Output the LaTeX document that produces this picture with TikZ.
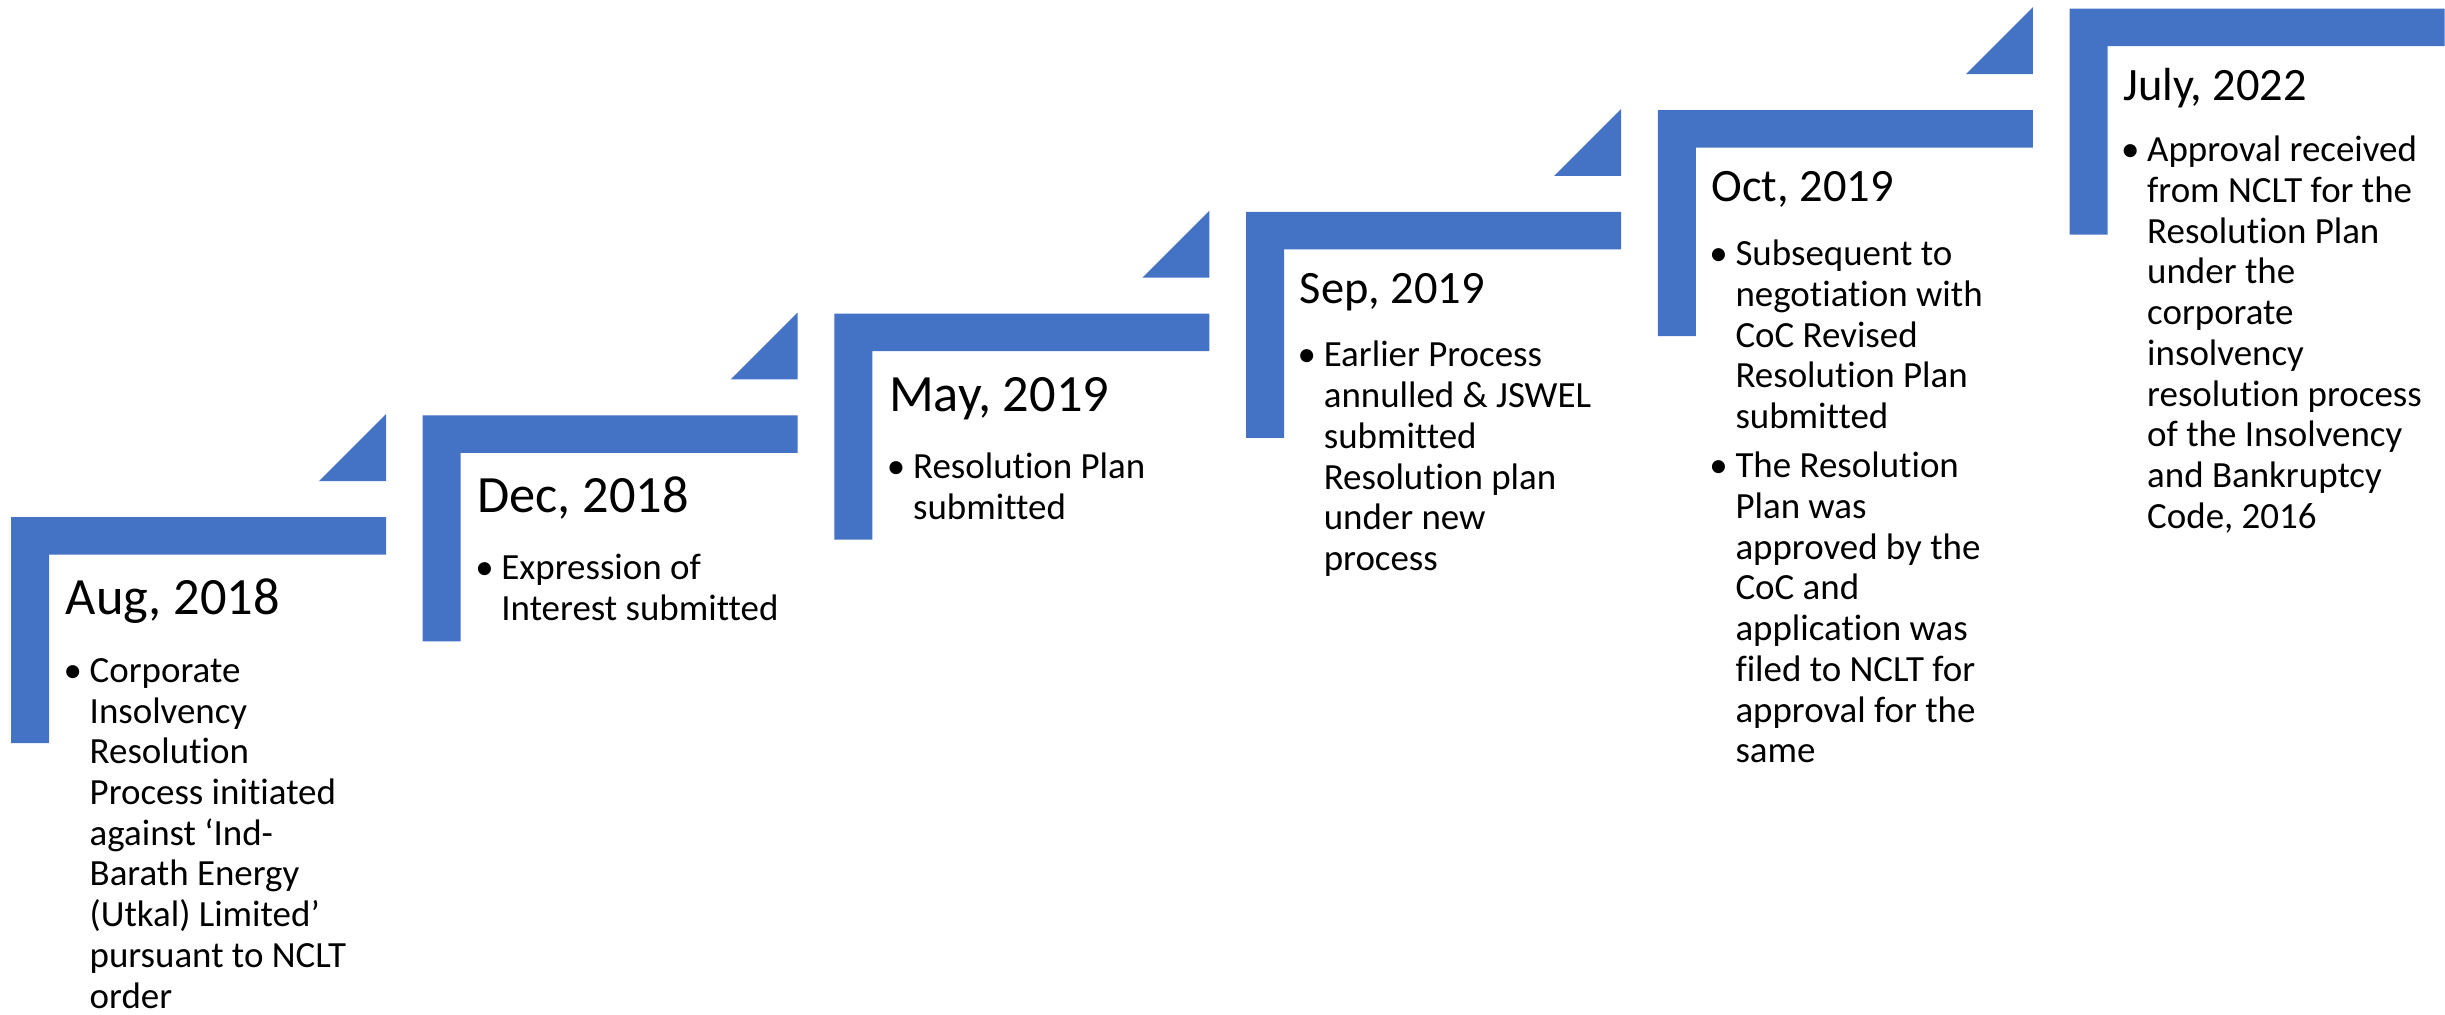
\documentclass[tikz,border=0pt]{standalone}
\usepackage{fontspec}
\setmainfont{Carlito}[Ligatures=NoCommon]
\usetikzlibrary{positioning}
\definecolor{StepBlue}{RGB}{68, 114, 196}

\tikzset{
  stepbar/.style={fill=StepBlue, draw=none},
  datebig/.style={anchor=base west, inner sep=0pt, font=\fontsize{14.9}{18}\selectfont},
  datesmall/.style={anchor=base west, inner sep=0pt, font=\fontsize{13.2}{16}\selectfont},
  % anchor on the baseline of the last line
  bullets/.style={anchor=base west, inner sep=0pt, align=left, font=\fontsize{10.5}{11.58}\selectfont},
}
\newcommand{\bul}{\llap{•\hspace{2.2pt}}}

\begin{document}
\begin{tikzpicture}[x=0.01cm, y=-0.01cm]
    \useasboundingbox (0,0) rectangle (2445,1014);

    % Steps (bent bars)
    \foreach \i in {0,...,5} {
        \pgfmathsetmacro{\xa}{11 + 411.7*\i}
        \pgfmathsetmacro{\ya}{517 - 101.7*\i}
        \fill[stepbar] (\xa,\ya) -- ++(375,0) -- ++(0,37.5) -- ++(-337,0)
            -- ++(0,188.5) -- ++(-38,0) -- cycle;
    }

    % Arrow tips (triangles)
    \foreach \i in {0,...,4} {
        \pgfmathsetmacro{\xb}{11 + 411.7*\i + 375}
        \pgfmathsetmacro{\yb}{517 - 101.7*\i - 36}
        \fill[stepbar] (\xb,\yb) -- ++(-67,0) -- ++(67,-67) -- cycle;
    }

    % Dates
    \node[datebig] (aug) at (65,614.5) {Aug, 2018};
    \node[datebig] (dec) at (476.7,512.8) {Dec, 2018};
    \node[datebig] (may) at (888.4,411.1) {May, 2019};
    \node[datesmall] (sep) at (1299.1,303.4) {Sep, 2019};
    \node[datesmall] (oct) at (1710.8,201.7) {Oct, 2019};
    \node[datesmall] (jul) at (2122.5,100) {July, 2022};

    % Details
    \node[bullets] (augtxt) at (89,1008.1) {\bul Corporate\\Insolvency\\Resolution\\Process initiated\\against ‘Ind-\\Barath Energy\\(Utkal) Limited’\\pursuant to NCLT\\order};
    \node[bullets] (dectxt) at (500.7,620.7) {\bul Expression of\\Interest submitted};
    \node[bullets] (maytxt) at (912.4,519.7) {\bul Resolution Plan\\submitted};
    \node[bullets] (septxt) at (1323.1,570.5) {\bul Earlier Process\\annulled \& JSWEL\\submitted\\Resolution plan\\under new\\process};
    \node[bullets] (octtxt) at (1734.8,762.8) {\bul Subsequent to\\negotiation with\\CoC Revised\\Resolution Plan\\submitted\\[2.4pt]\bul The Resolution\\Plan was\\approved by the\\CoC and\\application was\\filed to NCLT for\\approval for the\\same};
    \node[bullets] (jultxt) at (2146.5,528.3) {\bul Approval received\\from NCLT for the\\Resolution Plan\\under the\\corporate\\insolvency\\resolution process\\of the Insolvency\\and Bankruptcy\\Code, 2016};
\end{tikzpicture}
\end{document}
